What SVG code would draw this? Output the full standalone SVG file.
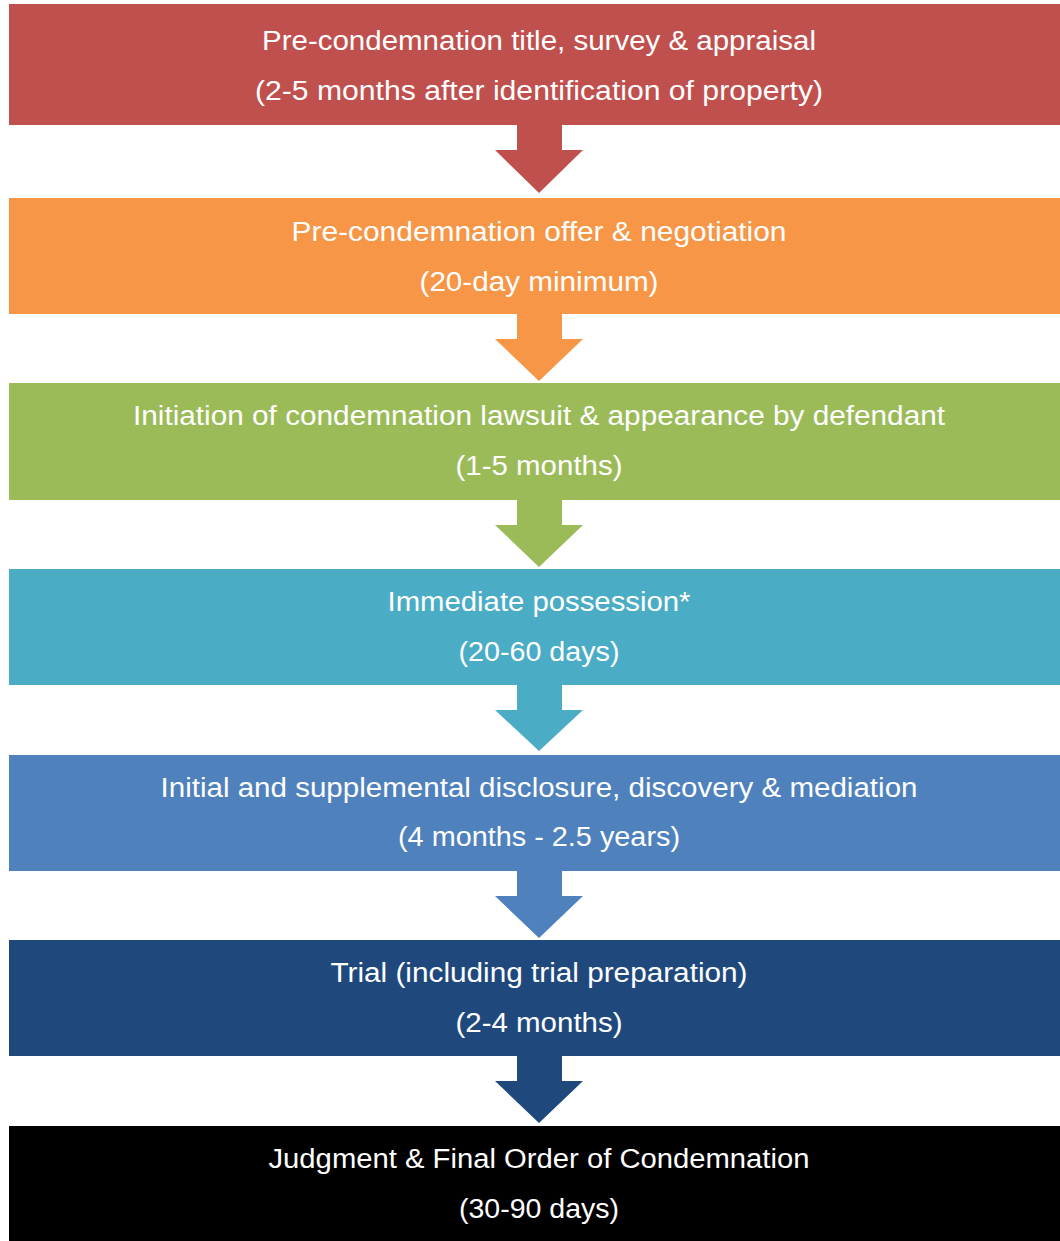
<svg xmlns="http://www.w3.org/2000/svg" width="1060" height="1241" viewBox="0 0 1060 1241">
<style>
text{font-family:"Liberation Sans",Arial,sans-serif;font-size:27px;fill:#fff;text-anchor:middle}
</style>
<rect width="1060" height="1241" fill="#fff"/>
<g id="connectors">
<polygon fill="#C0504D" points="517,120 562,120 562,150 583,150 539,193 495,150 517,150"/>
<polygon fill="#F79646" points="517,310 562,310 562,339 583,339 539,381 495,339 517,339"/>
<polygon fill="#9BBB59" points="517,495 562,495 562,525 583,525 539,567 495,525 517,525"/>
<polygon fill="#4BACC6" points="517,680 562,680 562,710 583,710 539,751 495,710 517,710"/>
<polygon fill="#4F81BD" points="517,866 562,866 562,896 583,896 539,938 495,896 517,896"/>
<polygon fill="#1F497D" points="517,1051 562,1051 562,1081 583,1081 539,1123 495,1081 517,1081"/>
</g>
<g id="n1"><rect x="9" y="4" width="1051" height="121" fill="#C0504D"/>
<text x="539" y="50" textLength="554" lengthAdjust="spacingAndGlyphs">Pre-condemnation title, survey &amp; appraisal</text>
<text x="539" y="100" textLength="568" lengthAdjust="spacingAndGlyphs">(2-5 months after identification of property)</text></g>
<g id="n2"><rect x="9" y="198" width="1051" height="116" fill="#F79646"/>
<text x="539" y="241" textLength="495" lengthAdjust="spacingAndGlyphs">Pre-condemnation offer &amp; negotiation</text>
<text x="539" y="291" textLength="239" lengthAdjust="spacingAndGlyphs">(20-day minimum)</text></g>
<g id="n3"><rect x="9" y="383" width="1051" height="117" fill="#9BBB59"/>
<text x="539" y="425" textLength="812" lengthAdjust="spacingAndGlyphs">Initiation of condemnation lawsuit &amp; appearance by defendant</text>
<text x="539" y="475" textLength="167" lengthAdjust="spacingAndGlyphs">(1-5 months)</text></g>
<g id="n4"><rect x="9" y="569" width="1051" height="116" fill="#4BACC6"/>
<text x="539" y="611" textLength="303" lengthAdjust="spacingAndGlyphs">Immediate possession*</text>
<text x="539" y="661" textLength="161" lengthAdjust="spacingAndGlyphs">(20-60 days)</text></g>
<g id="n5"><rect x="9" y="755" width="1051" height="116" fill="#4F81BD"/>
<text x="539" y="797" textLength="757" lengthAdjust="spacingAndGlyphs">Initial and supplemental disclosure, discovery &amp; mediation</text>
<text x="539" y="846" textLength="282" lengthAdjust="spacingAndGlyphs">(4 months - 2.5 years)</text></g>
<g id="n6"><rect x="9" y="940" width="1051" height="116" fill="#1F497D"/>
<text x="539" y="982" textLength="417" lengthAdjust="spacingAndGlyphs">Trial (including trial preparation)</text>
<text x="539" y="1032" textLength="167" lengthAdjust="spacingAndGlyphs">(2-4 months)</text></g>
<g id="n7"><rect x="9" y="1126" width="1051" height="115" fill="#000"/>
<text x="539" y="1168" textLength="541" lengthAdjust="spacingAndGlyphs">Judgment &amp; Final Order of Condemnation</text>
<text x="539" y="1218" textLength="160" lengthAdjust="spacingAndGlyphs">(30-90 days)</text></g>
</svg>
